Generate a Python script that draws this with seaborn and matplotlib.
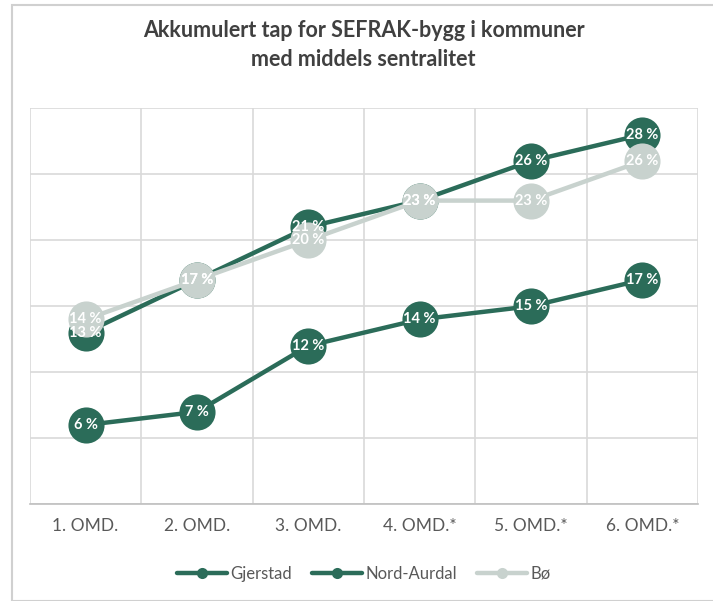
import seaborn as sns
import matplotlib.pyplot as plt
from matplotlib.patches import Rectangle
import numpy as np

categories = ["1. OMD.", "2. OMD.", "3. OMD.", "4. OMD.*", "5. OMD.*", "6. OMD.*"]
gjerstad = [13, 17, 21, 23, 26, 28]
nord_aurdal = [6, 7, 12, 14, 15, 17]
bo = [14, 17, 20, 23, 23, 26]

dark = "#2B6C59"
light = "#C8D2CE"
text_col = "#595959"

sns.set_style("white")
plt.rcParams['font.family'] = ['Lato', 'DejaVu Sans']

fig = plt.figure(figsize=(7.13, 6.01), dpi=100)
ax = fig.add_axes([0.042, 0.161, 0.937, 0.659])

# outer frame of the chart
fig.patches.append(Rectangle((12 / 713, 0), 1.0, 1 - 5 / 601, transform=fig.transFigure,
                             fill=False, edgecolor="#D0D0D0", linewidth=1.5))

x = np.arange(len(categories))
series = [("Gjerstad", gjerstad, dark), ("Nord-Aurdal", nord_aurdal, dark), ("Bø", bo, light)]

for name, vals, col in series:
    sns.lineplot(x=x, y=vals, ax=ax, color=col, linewidth=3.2, marker="o",
                 markersize=26, markeredgewidth=0, label=name, legend=False)
    for xi, v in zip(x, vals):
        ax.text(xi, v, f"{v} %", color="white", ha="center", va="center",
                fontsize=10.5, fontweight="bold")

ax.set_xlim(-0.5, 5.5)
ax.set_ylim(0, 30)
ax.set_yticks(np.arange(0, 31, 5))
ax.set_yticklabels([])
ax.set_xticks(np.arange(-0.5, 5.6, 1), minor=False)
ax.set_xticklabels([])
ax.grid(True, color="#D9D9D9", linewidth=1.2)
ax.set_axisbelow(True)
for s in ["top", "right", "left"]:
    ax.spines[s].set_visible(False)
ax.spines["bottom"].set_color("#BFBFBF")
ax.spines["bottom"].set_linewidth(1.2)
ax.tick_params(length=0)
for xi, c in zip(x, categories):
    ax.text(xi, -0.035, c, transform=ax.get_xaxis_transform(), ha="center", va="top",
            fontsize=12.5, color=text_col)

fig.text(0.51, 0.925, "Akkumulert tap for SEFRAK-bygg i kommuner\nmed middels sentralitet",
         ha="center", va="center", fontsize=15.5, fontweight="bold", color="#404040",
         linespacing=1.45)

handles, labels = ax.get_legend_handles_labels()
leg = fig.legend(handles, labels, loc="center", bbox_to_anchor=(0.51, 0.045), ncol=3,
                 frameon=False, fontsize=12, handlelength=3, columnspacing=1.2,
                 handletextpad=0.2)
for h in leg.legend_handles:
    h.set_markersize(8)
for t in leg.get_texts():
    t.set_color(text_col)

fig.savefig("out.png", dpi=100)
